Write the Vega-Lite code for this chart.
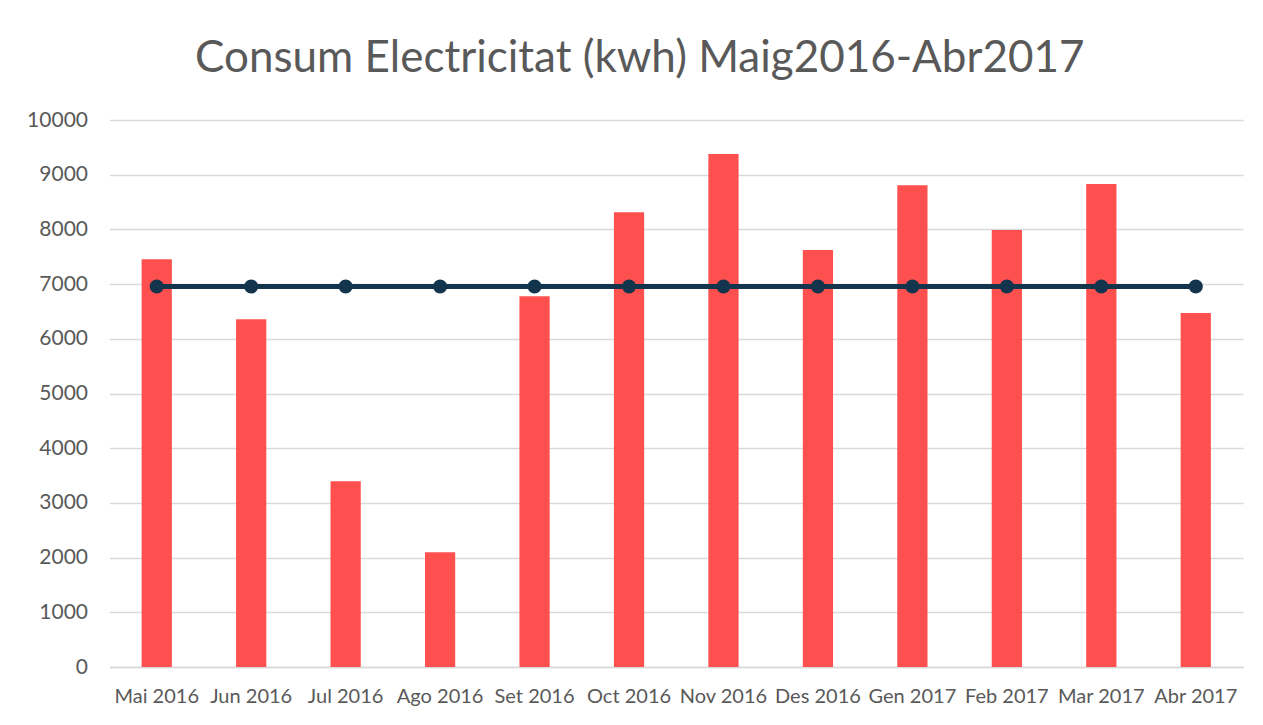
{
  "$schema": "https://vega.github.io/schema/vega-lite/v6.json",
  "width": 1133.5,
  "height": 547,
  "autosize": {"type": "none"},
  "padding": {"left": 109.5, "top": 120, "right": 20, "bottom": 58},
  "background": "white",
  "title": {
    "text": "Consum Electricitat (kwh) Maig2016-Abr2017",
    "font": "Lato",
    "fontSize": 44,
    "fontWeight": "normal",
    "color": "#595959",
    "anchor": "middle",
    "frame": "bounds",
    "offset": 28,
    "dx": 5
  },
  "config": {
    "view": {"stroke": null},
    "axis": {"labelFont": "Lato", "labelColor": "#595959", "titleFont": "Lato"}
  },
  "data": {
    "values": [
      {"mes": "Mai 2016", "consum": 7453, "mitjana": 6957},
      {"mes": "Jun 2016", "consum": 6356, "mitjana": 6957},
      {"mes": "Jul 2016", "consum": 3395, "mitjana": 6957},
      {"mes": "Ago 2016", "consum": 2097, "mitjana": 6957},
      {"mes": "Set 2016", "consum": 6777, "mitjana": 6957},
      {"mes": "Oct 2016", "consum": 8313, "mitjana": 6957},
      {"mes": "Nov 2016", "consum": 9378, "mitjana": 6957},
      {"mes": "Des 2016", "consum": 7623, "mitjana": 6957},
      {"mes": "Gen 2017", "consum": 8806, "mitjana": 6957},
      {"mes": "Feb 2017", "consum": 7989, "mitjana": 6957},
      {"mes": "Mar 2017", "consum": 8830, "mitjana": 6957},
      {"mes": "Abr 2017", "consum": 6472, "mitjana": 6957}
    ]
  },
  "encoding": {
    "x": {
      "field": "mes",
      "type": "nominal",
      "sort": null,
      "scale": {"paddingInner": 0.68, "paddingOuter": 0.34},
      "axis": {
        "title": null,
        "labelAngle": 0,
        "labelFontSize": 20,
        "labelPadding": 19,
        "labelOverlap": false,
        "labelLimit": 0,
        "ticks": false,
        "domainColor": "#d9d9d9",
        "domainWidth": 1.5
      }
    }
  },
  "layer": [
    {
      "mark": {"type": "bar", "color": "#ff5050"},
      "encoding": {
        "y": {
          "field": "consum",
          "type": "quantitative",
          "scale": {"domain": [0, 10000]},
          "axis": {
            "title": null,
            "values": [0, 1000, 2000, 3000, 4000, 5000, 6000, 7000, 8000, 9000, 10000],
            "format": "d",
            "labelFontSize": 21,
            "labelPadding": 22,
            "ticks": false,
            "domain": false,
            "gridColor": "#d9d9d9",
            "gridWidth": 1.5
          }
        }
      }
    },
    {
      "mark": {
        "type": "line",
        "color": "#12344d",
        "strokeWidth": 5,
        "point": {"filled": true, "color": "#12344d", "size": 200, "opacity": 1}
      },
      "encoding": {
        "x": {"field": "mes", "type": "nominal", "sort": null, "bandPosition": 0.5},
        "y": {"field": "mitjana", "type": "quantitative"}
      }
    }
  ]
}
